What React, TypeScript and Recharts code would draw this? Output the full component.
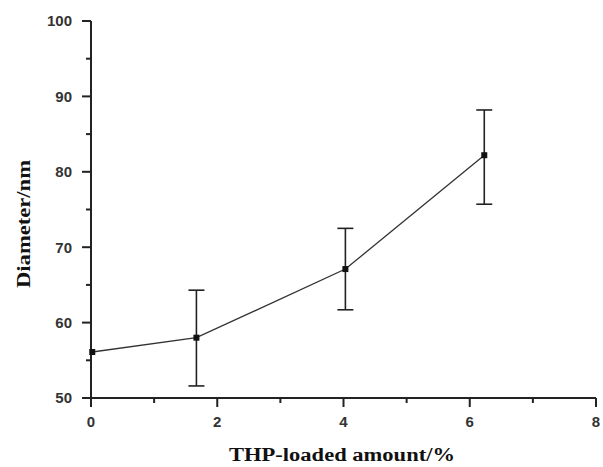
import { LineChart, Line, XAxis, YAxis, ErrorBar, Label } from "recharts";

// THP-loaded amount (%) vs particle diameter (nm)
const loading = [0.02, 1.67, 4.03, 6.23];
const diameter = [56.1, 58.0, 67.1, 82.2];
const errLow = [null, 6.4, 5.4, 6.5];
const errHigh = [null, 6.3, 5.4, 6.0];

const xTicks = [0, 1, 2, 3, 4, 5, 6, 7, 8];
const xLabels = [0, 2, 4, 6, 8];
const yTicks = [50, 55, 60, 65, 70, 75, 80, 85, 90, 95, 100];
const yLabels = [50, 60, 70, 80, 90, 100];

const data = loading.map((x, i) => ({
  x,
  d: diameter[i],
  err: errLow[i] == null ? null : [errLow[i], errHigh[i]],
}));

const ink = "#222";
const tickFont = "'Liberation Sans', Arial, sans-serif";
const titleFont = "'Liberation Serif', 'Times New Roman', serif";

const XTick = (props: any) => {
  const { x, y, payload } = props;
  const major = xLabels.includes(payload.value);
  return (
    <g>
      <line x1={x} x2={x} y1={y} y2={y + (major ? 9 : 5)} stroke={ink} strokeWidth={2} />
      {major && (
        <text x={x} y={y + 29} textAnchor="middle" fontFamily={tickFont} fontSize={15} fontWeight="bold" fill="#333">
          {payload.value}
        </text>
      )}
    </g>
  );
};

const YTick = (props: any) => {
  const { x, y, payload } = props;
  const major = yLabels.includes(payload.value);
  return (
    <g>
      <line x1={x - (major ? 9 : 5)} x2={x} y1={y} y2={y} stroke={ink} strokeWidth={2} />
      {major && (
        <text x={x - 19} y={y} dy="0.36em" textAnchor="end" fontFamily={tickFont} fontSize={15} fontWeight="bold" fill="#333">
          {payload.value}
        </text>
      )}
    </g>
  );
};

const Square = (p: any) => (
  <rect key={p.index} x={p.cx - 3} y={p.cy - 3} width={6} height={6} fill="#111" />
);

export default function App() {
  return (
    <div style={{ position: "absolute", left: 0, top: 0, background: "#fff" }}>
      <LineChart width={603} height={467} data={data} margin={{ top: 21, right: 7, left: 0, bottom: 0 }}>
        <XAxis
          dataKey="x"
          type="number"
          domain={[0, 8]}
          ticks={xTicks}
          interval={0}
          height={69}
          tickSize={0}
          tickMargin={0}
          tickLine={false}
          tick={<XTick />}
          axisLine={{ stroke: ink, strokeWidth: 2 }}
        >
          <Label
            content={() => (
              <text x={342} y={461} textAnchor="middle" fontFamily={titleFont} fontSize={18} fontWeight="bold" fill="#111" textLength={226} lengthAdjust="spacingAndGlyphs">
                THP-loaded amount/%
              </text>
            )}
          />
        </XAxis>
        <YAxis
          type="number"
          domain={[50, 100]}
          ticks={yTicks}
          interval={0}
          width={91}
          tickSize={0}
          tickMargin={0}
          tickLine={false}
          tick={<YTick />}
          axisLine={{ stroke: ink, strokeWidth: 2 }}
        >
          <Label
            content={() => (
              <text x={30} y={224} transform="rotate(-90 30 224)" textAnchor="middle" fontFamily={titleFont} fontSize={18} fontWeight="bold" fill="#111" textLength={128} lengthAdjust="spacingAndGlyphs">
                Diameter/nm
              </text>
            )}
          />
        </YAxis>
        <Line
          type="linear"
          dataKey="d"
          stroke="#333"
          strokeWidth={1.3}
          dot={<Square />}
          activeDot={false}
          isAnimationActive={false}
        >
          <ErrorBar dataKey="err" direction="y" width={8} stroke={ink} strokeWidth={1.6} />
        </Line>
      </LineChart>
    </div>
  );
}
